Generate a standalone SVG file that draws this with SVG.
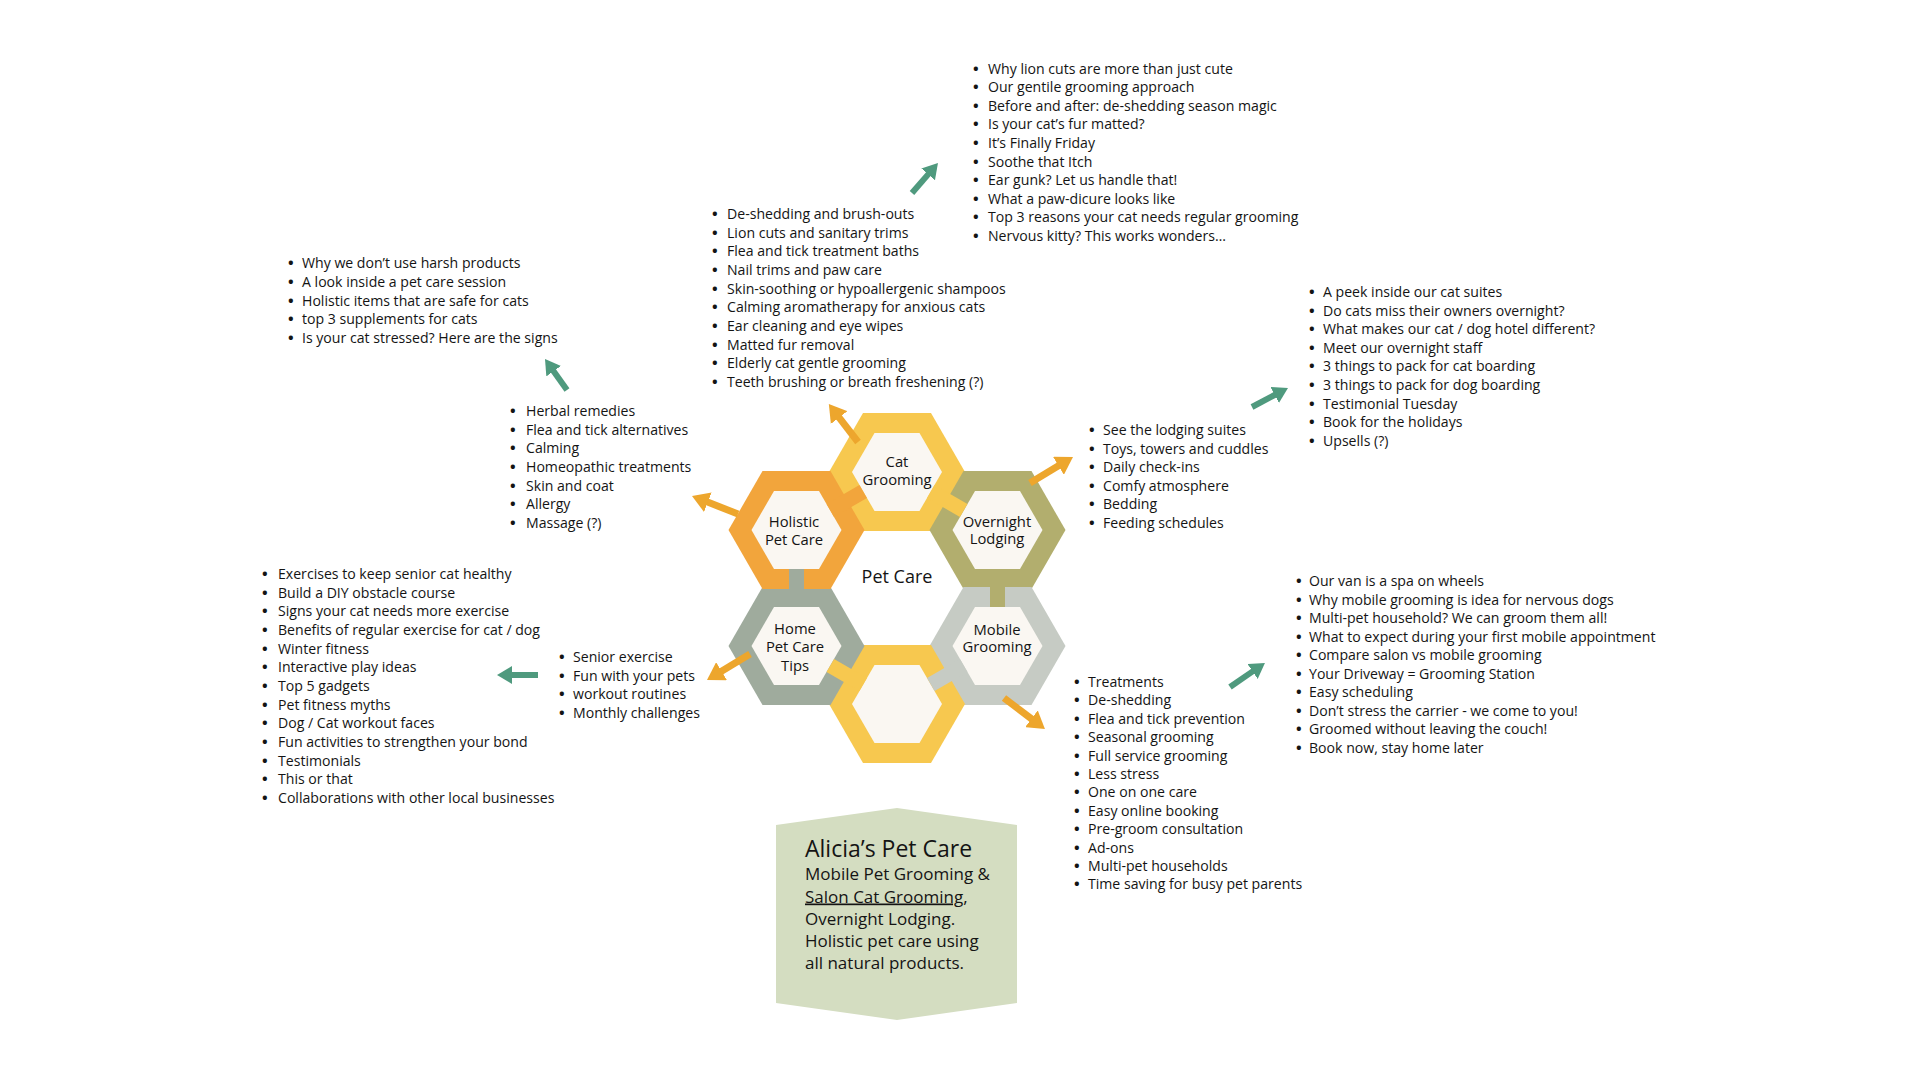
<svg xmlns="http://www.w3.org/2000/svg" width="1920" height="1080" viewBox="0 0 1920 1080">
<style>
text { font-family: "Open Sans", "Liberation Sans", sans-serif; fill: #141414; }
.li { font-size: 14.1px; font-weight: 500; }
.bu { font-size: 15px; font-weight: 700; }
.hl { font-size: 14.8px; text-anchor: middle; font-weight: 500; }
.ct { font-size: 18px; text-anchor: middle; font-weight: 500; }
.bt { font-size: 23px; font-weight: 500; }
.bb { font-size: 17px; font-weight: 500; }
.bar { stroke-width: 15; stroke-linecap: butt; fill: none; }
.ao { stroke: #eda62d; stroke-width: 7; fill: none; }
.at { stroke: #4f9a7e; stroke-width: 6; fill: none; }
.inner { fill: #faf7f2; }
</style>
<defs>
<polygon id="hexO" points="68,0 34,58.9 -34,58.9 -68,0 -34,-58.9 34,-58.9"/>
<polygon id="hexI" points="45,0 22.5,39 -22.5,39 -45,0 -22.5,-39 22.5,-39"/>
<marker id="mo" markerUnits="userSpaceOnUse" markerWidth="17" markerHeight="21" viewBox="0 0 17 21" refX="1" refY="10.5" orient="auto"><path d="M0,0 L17,10.5 L0,21 z" fill="#eda62d"/></marker>
<marker id="mt" markerUnits="userSpaceOnUse" markerWidth="15" markerHeight="18" viewBox="0 0 15 18" refX="1" refY="9" orient="auto"><path d="M0,0 L15,9 L0,18 z" fill="#4f9a7e"/></marker>
</defs>
<rect width="1920" height="1080" fill="#ffffff"/>

<g id="node-cat-grooming">
<use href="#hexO" x="897" y="472" fill="#f7c84f"/>
<use href="#hexI" x="897" y="472" class="inner"/>
</g>
<g id="node-overnight-lodging">
<use href="#hexO" x="997.5" y="530" fill="#b2ae6e"/>
<use href="#hexI" x="997.5" y="530" class="inner"/>
</g>
<g id="node-mobile-grooming">
<use href="#hexO" x="997.5" y="646" fill="#c6cbc4"/>
<use href="#hexI" x="997.5" y="646" class="inner"/>
</g>
<g id="node-bottom">
<use href="#hexO" x="897" y="704" fill="#f7c84f"/>
<use href="#hexI" x="897" y="704" class="inner"/>
</g>
<g id="node-home-pet-care-tips">
<use href="#hexO" x="796.5" y="646" fill="#9fab9d"/>
<use href="#hexI" x="796.5" y="646" class="inner"/>
</g>
<g id="node-holistic-pet-care">
<use href="#hexO" x="796.5" y="530" fill="#f2a53c"/>
<use href="#hexI" x="796.5" y="530" class="inner"/>
</g>

<g id="connectors">
<line class="bar" stroke="#f2a53c" x1="830.3" y1="510.5" x2="863.2" y2="491.5"/>
<line class="bar" stroke="#f7c84f" x1="930.8" y1="491.5" x2="963.7" y2="510.5"/>
<line class="bar" stroke="#b2ae6e" x1="997.5" y1="569" x2="997.5" y2="607"/>
<line class="bar" stroke="#c6cbc4" x1="963.7" y1="665.5" x2="930.8" y2="684.5"/>
<line class="bar" stroke="#f7c84f" x1="863.2" y1="684.5" x2="830.3" y2="665.5"/>
<line class="bar" stroke="#9fab9d" x1="796.5" y1="607" x2="796.5" y2="569"/>

<line class="ao" x1="858" y1="442" x2="838.6" y2="416.8" marker-end="url(#mo)"/>
<line class="ao" x1="738" y1="514" x2="706.9" y2="501.8" marker-end="url(#mo)"/>
<line class="ao" x1="1030" y1="483" x2="1059.3" y2="465.3" marker-end="url(#mo)"/>
<line class="ao" x1="750" y1="654" x2="720.7" y2="671.7" marker-end="url(#mo)"/>
<line class="ao" x1="1004" y1="698" x2="1032.2" y2="719.4" marker-end="url(#mo)"/>

<line class="at" x1="912" y1="193" x2="928.8" y2="173.6" marker-end="url(#mt)"/>
<line class="at" x1="567" y1="390" x2="553.1" y2="370.4" marker-end="url(#mt)"/>
<line class="at" x1="1252" y1="407" x2="1275.6" y2="394.5" marker-end="url(#mt)"/>
<line class="at" x1="538" y1="675" x2="511" y2="675" marker-end="url(#mt)"/>
<line class="at" x1="1230" y1="687" x2="1253.4" y2="670.9" marker-end="url(#mt)"/>
</g>

<g id="labels">
<text class="hl" x="897"><tspan x="897" y="467">Cat</tspan><tspan x="897" y="485">Grooming</tspan></text>
<text class="hl" x="794"><tspan x="794" y="527">Holistic</tspan><tspan x="794" y="545">Pet Care</tspan></text>
<text class="hl" x="997"><tspan x="997" y="527">Overnight</tspan><tspan x="997" y="544">Lodging</tspan></text>
<text class="hl" x="795"><tspan x="795" y="634">Home</tspan><tspan x="795" y="652">Pet Care</tspan><tspan x="795" y="671">Tips</tspan></text>
<text class="hl" x="997"><tspan x="997" y="635">Mobile</tspan><tspan x="997" y="652">Grooming</tspan></text>
<text class="ct" x="897" y="583">Pet Care</text>
</g>

<g id="list-cat-posts">
<text class="bu"><tspan x="973" y="73.5">•</tspan><tspan x="973" y="92">•</tspan><tspan x="973" y="110.7">•</tspan><tspan x="973" y="129.3">•</tspan><tspan x="973" y="148">•</tspan><tspan x="973" y="166.5">•</tspan><tspan x="973" y="185">•</tspan><tspan x="973" y="203.7">•</tspan><tspan x="973" y="222.3">•</tspan><tspan x="973" y="241">•</tspan></text>
<text class="li"><tspan x="988" y="73.5">Why lion cuts are more than just cute</tspan><tspan x="988" y="92">Our gentile grooming approach</tspan><tspan x="988" y="110.7">Before and after: de-shedding season magic</tspan><tspan x="988" y="129.3">Is your cat’s fur matted?</tspan><tspan x="988" y="148">It’s Finally Friday</tspan><tspan x="988" y="166.5">Soothe that Itch</tspan><tspan x="988" y="185">Ear gunk? Let us handle that!</tspan><tspan x="988" y="203.7">What a paw-dicure looks like</tspan><tspan x="988" y="222.3">Top 3 reasons your cat needs regular grooming</tspan><tspan x="988" y="241">Nervous kitty? This works wonders…</tspan></text>
</g>

<g id="list-cat-services">
<text class="bu"><tspan x="712" y="219">•</tspan><tspan x="712" y="237.7">•</tspan><tspan x="712" y="256.3">•</tspan><tspan x="712" y="275">•</tspan><tspan x="712" y="293.7">•</tspan><tspan x="712" y="312.3">•</tspan><tspan x="712" y="331">•</tspan><tspan x="712" y="349.7">•</tspan><tspan x="712" y="368.3">•</tspan><tspan x="712" y="387">•</tspan></text>
<text class="li"><tspan x="727" y="219">De-shedding and brush-outs</tspan><tspan x="727" y="237.7">Lion cuts and sanitary trims</tspan><tspan x="727" y="256.3">Flea and tick treatment baths</tspan><tspan x="727" y="275">Nail trims and paw care</tspan><tspan x="727" y="293.7">Skin-soothing or hypoallergenic shampoos</tspan><tspan x="727" y="312.3">Calming aromatherapy for anxious cats</tspan><tspan x="727" y="331">Ear cleaning and eye wipes</tspan><tspan x="727" y="349.7">Matted fur removal</tspan><tspan x="727" y="368.3">Elderly cat gentle grooming</tspan><tspan x="727" y="387">Teeth brushing or breath freshening (?)</tspan></text>
</g>

<g id="list-holistic-posts">
<text class="bu"><tspan x="288" y="268">•</tspan><tspan x="288" y="286.8">•</tspan><tspan x="288" y="305.5">•</tspan><tspan x="288" y="324.3">•</tspan><tspan x="288" y="343">•</tspan></text>
<text class="li"><tspan x="302" y="268">Why we don’t use harsh products</tspan><tspan x="302" y="286.8">A look inside a pet care session</tspan><tspan x="302" y="305.5">Holistic items that are safe for cats</tspan><tspan x="302" y="324.3">top 3 supplements for cats</tspan><tspan x="302" y="343">Is your cat stressed? Here are the signs</tspan></text>
</g>

<g id="list-holistic-services">
<text class="bu"><tspan x="510" y="416">•</tspan><tspan x="510" y="434.7">•</tspan><tspan x="510" y="453.3">•</tspan><tspan x="510" y="472">•</tspan><tspan x="510" y="490.7">•</tspan><tspan x="510" y="509.3">•</tspan><tspan x="510" y="528">•</tspan></text>
<text class="li"><tspan x="526" y="416">Herbal remedies</tspan><tspan x="526" y="434.7">Flea and tick alternatives</tspan><tspan x="526" y="453.3">Calming</tspan><tspan x="526" y="472">Homeopathic treatments</tspan><tspan x="526" y="490.7">Skin and coat</tspan><tspan x="526" y="509.3">Allergy</tspan><tspan x="526" y="528">Massage (?)</tspan></text>
</g>

<g id="list-overnight-services">
<text class="bu"><tspan x="1089" y="435">•</tspan><tspan x="1089" y="453.6">•</tspan><tspan x="1089" y="472.2">•</tspan><tspan x="1089" y="490.8">•</tspan><tspan x="1089" y="509.4">•</tspan><tspan x="1089" y="528">•</tspan></text>
<text class="li"><tspan x="1103" y="435">See the lodging suites</tspan><tspan x="1103" y="453.6">Toys, towers and cuddles</tspan><tspan x="1103" y="472.2">Daily check-ins</tspan><tspan x="1103" y="490.8">Comfy atmosphere</tspan><tspan x="1103" y="509.4">Bedding</tspan><tspan x="1103" y="528">Feeding schedules</tspan></text>
</g>

<g id="list-overnight-posts">
<text class="bu"><tspan x="1309" y="297">•</tspan><tspan x="1309" y="315.6">•</tspan><tspan x="1309" y="334.2">•</tspan><tspan x="1309" y="352.8">•</tspan><tspan x="1309" y="371.4">•</tspan><tspan x="1309" y="390">•</tspan><tspan x="1309" y="408.6">•</tspan><tspan x="1309" y="427.2">•</tspan><tspan x="1309" y="445.8">•</tspan></text>
<text class="li"><tspan x="1323" y="297">A peek inside our cat suites</tspan><tspan x="1323" y="315.6">Do cats miss their owners overnight?</tspan><tspan x="1323" y="334.2">What makes our cat / dog hotel different?</tspan><tspan x="1323" y="352.8">Meet our overnight staff</tspan><tspan x="1323" y="371.4">3 things to pack for cat boarding</tspan><tspan x="1323" y="390">3 things to pack for dog boarding</tspan><tspan x="1323" y="408.6">Testimonial Tuesday</tspan><tspan x="1323" y="427.2">Book for the holidays</tspan><tspan x="1323" y="445.8">Upsells (?)</tspan></text>
</g>

<g id="list-home-posts">
<text class="bu"><tspan x="262" y="579">•</tspan><tspan x="262" y="597.7">•</tspan><tspan x="262" y="616.3">•</tspan><tspan x="262" y="635">•</tspan><tspan x="262" y="653.7">•</tspan><tspan x="262" y="672.3">•</tspan><tspan x="262" y="691">•</tspan><tspan x="262" y="709.7">•</tspan><tspan x="262" y="728.3">•</tspan><tspan x="262" y="747">•</tspan><tspan x="262" y="765.7">•</tspan><tspan x="262" y="784.3">•</tspan><tspan x="262" y="803">•</tspan></text>
<text class="li"><tspan x="278" y="579">Exercises to keep senior cat healthy</tspan><tspan x="278" y="597.7">Build a DIY obstacle course</tspan><tspan x="278" y="616.3">Signs your cat needs more exercise</tspan><tspan x="278" y="635">Benefits of regular exercise for cat / dog</tspan><tspan x="278" y="653.7">Winter fitness</tspan><tspan x="278" y="672.3">Interactive play ideas</tspan><tspan x="278" y="691">Top 5 gadgets</tspan><tspan x="278" y="709.7">Pet fitness myths</tspan><tspan x="278" y="728.3">Dog / Cat workout faces</tspan><tspan x="278" y="747">Fun activities to strengthen your bond</tspan><tspan x="278" y="765.7">Testimonials</tspan><tspan x="278" y="784.3">This or that</tspan><tspan x="278" y="803">Collaborations with other local businesses</tspan></text>
</g>

<g id="list-home-services">
<text class="bu"><tspan x="559" y="662">•</tspan><tspan x="559" y="680.7">•</tspan><tspan x="559" y="699.3">•</tspan><tspan x="559" y="718">•</tspan></text>
<text class="li"><tspan x="573" y="662">Senior exercise</tspan><tspan x="573" y="680.7">Fun with your pets</tspan><tspan x="573" y="699.3">workout routines</tspan><tspan x="573" y="718">Monthly challenges</tspan></text>
</g>

<g id="list-mobile-services">
<text class="bu"><tspan x="1074" y="687">•</tspan><tspan x="1074" y="705.4">•</tspan><tspan x="1074" y="723.8">•</tspan><tspan x="1074" y="742.2">•</tspan><tspan x="1074" y="760.6">•</tspan><tspan x="1074" y="779">•</tspan><tspan x="1074" y="797.4">•</tspan><tspan x="1074" y="815.8">•</tspan><tspan x="1074" y="834.2">•</tspan><tspan x="1074" y="852.6">•</tspan><tspan x="1074" y="871">•</tspan><tspan x="1074" y="889.4">•</tspan></text>
<text class="li"><tspan x="1088" y="687">Treatments</tspan><tspan x="1088" y="705.4">De-shedding</tspan><tspan x="1088" y="723.8">Flea and tick prevention</tspan><tspan x="1088" y="742.2">Seasonal grooming</tspan><tspan x="1088" y="760.6">Full service grooming</tspan><tspan x="1088" y="779">Less stress</tspan><tspan x="1088" y="797.4">One on one care</tspan><tspan x="1088" y="815.8">Easy online booking</tspan><tspan x="1088" y="834.2">Pre-groom consultation</tspan><tspan x="1088" y="852.6">Ad-ons</tspan><tspan x="1088" y="871">Multi-pet households</tspan><tspan x="1088" y="889.4">Time saving for busy pet parents</tspan></text>
</g>

<g id="list-mobile-posts">
<text class="bu"><tspan x="1296" y="586">•</tspan><tspan x="1296" y="604.5">•</tspan><tspan x="1296" y="623">•</tspan><tspan x="1296" y="641.5">•</tspan><tspan x="1296" y="660">•</tspan><tspan x="1296" y="678.5">•</tspan><tspan x="1296" y="697">•</tspan><tspan x="1296" y="715.5">•</tspan><tspan x="1296" y="734">•</tspan><tspan x="1296" y="752.5">•</tspan></text>
<text class="li"><tspan x="1309" y="586">Our van is a spa on wheels</tspan><tspan x="1309" y="604.5">Why mobile grooming is idea for nervous dogs</tspan><tspan x="1309" y="623">Multi-pet household? We can groom them all!</tspan><tspan x="1309" y="641.5">What to expect during your first mobile appointment</tspan><tspan x="1309" y="660">Compare salon vs mobile grooming</tspan><tspan x="1309" y="678.5">Your Driveway = Grooming Station</tspan><tspan x="1309" y="697">Easy scheduling</tspan><tspan x="1309" y="715.5">Don’t stress the carrier - we come to you!</tspan><tspan x="1309" y="734">Groomed without leaving the couch!</tspan><tspan x="1309" y="752.5">Book now, stay home later</tspan></text>
</g>

<g id="node-info-box">
<polygon points="776,825 897,808 1017,825 1017,1003 897,1020 776,1003" fill="#d4ddc1"/>
<text class="bt" x="805" y="857">Alicia’s Pet Care</text>
<text class="bb"><tspan x="805" y="880">Mobile Pet Grooming &amp;</tspan><tspan x="805" y="902.5"><tspan text-decoration="underline">Salon Cat Grooming</tspan>,</tspan><tspan x="805" y="924.5">Overnight Lodging.</tspan><tspan x="805" y="946.5">Holistic pet care using</tspan><tspan x="805" y="968.5">all natural products.</tspan></text>
</g>
</svg>
